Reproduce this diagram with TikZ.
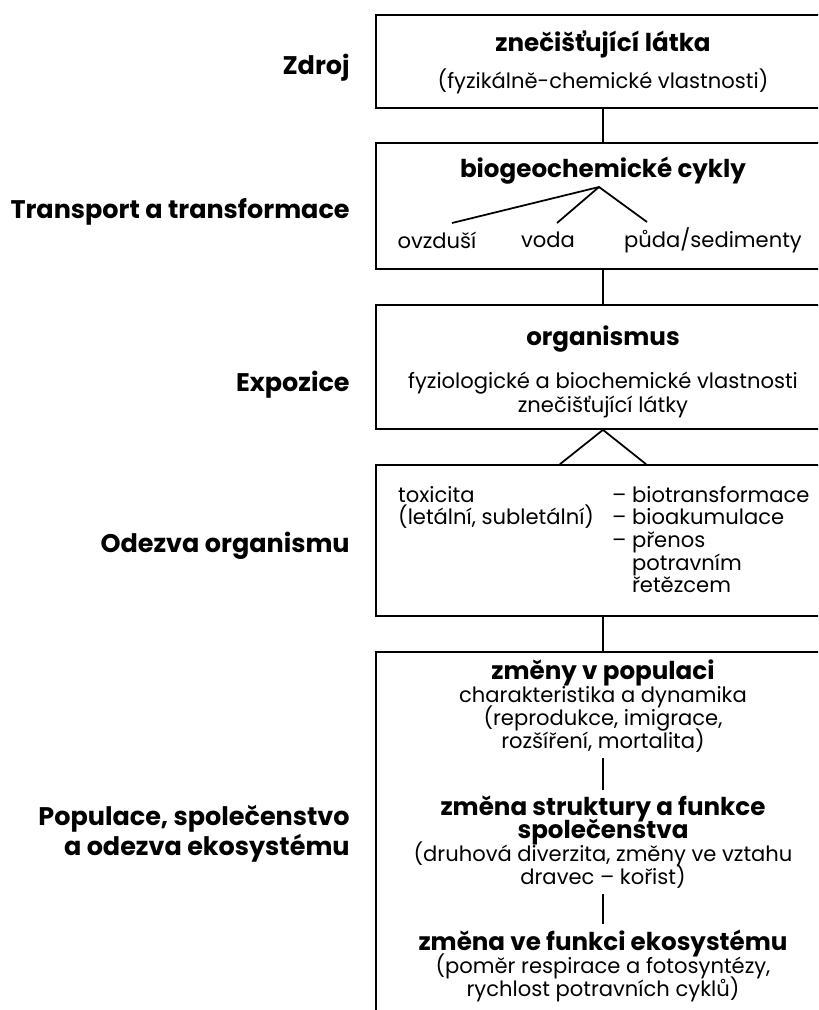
\documentclass[tikz,border=0pt]{standalone}
\usepackage{fontspec}
\setmainfont{Poppins}
\usetikzlibrary{positioning,calc}

\begin{document}
\begin{tikzpicture}[
    x=0.02cm, y=-0.02cm,
    stage/.style={draw, line width=1pt, minimum width=9.08cm, inner sep=0pt},
    head/.style={font=\fontsize{14}{15}\selectfont\bfseries},
    body/.style={font={\fontsize{12}{13}\selectfont\lineskiplimit=-20pt\lineskip=0pt}, align=center},
    side/.style={font=\fontsize{14.5}{12.8}\selectfont\bfseries, anchor=east, align=right, inner sep=0pt},
    link/.style={line width=1pt}
]
\clip (0,0) rectangle (818,1010);

\node[stage, minimum height=1.86cm] (pollutant) at (603,61.5) {};
\node[stage, minimum height=2.52cm] (cycles) at (603,206) {};
\node[stage, minimum height=2.48cm] (organism) at (603,367) {};
\node[stage, minimum height=3.02cm] (response) at (603,540.5) {};
\node[stage, minimum height=7.56cm] (ecosys) at (603,841) {};

\draw[link] (pollutant) -- (cycles);
\draw[link] (cycles) -- (organism);
\draw[link] ($(response.north)+(-43,0)$) -- (organism.south) -- ($(response.north)+(43,0)$);
\draw[link] (response) -- (ecosys);

\node[side] (zdroj) at (350,68) {Zdroj};
\node[side] (transport) at (350,212) {Transport a transformace};
\node[side] (expozice) at (350,385) {Expozice};
\node[side] (odezva) at (350,546) {Odezva organismu};
\node[side] (populace) at (350,834) {Populace, společenstvo\\a odezva ekosystému};

\node[head] (pollutanthead) at (603,44) {znečišťující látka};
\node[body] (pollutantprops) at (603,81) {(fyzikálně-chemické vlastnosti)};

\node[head] (cycleshead) at (603,171) {biogeochemické cykly};
\node[body] (air) at (437,240) {ovzduší};
\node[body] (water) at (548,240) {voda};
\node[body] (soil) at (713,240) {půda/sedimenty};
\coordinate (split) at (599,187);
\coordinate (airend) at (452,223);
\coordinate (waterend) at (557,223);
\coordinate (soilend) at (647,222);
\draw[link] (airend) -- (split) -- (soilend);
\draw[link] (split) -- (waterend);

\node[head] (organismhead) at (603,339) {organismus};
\node[body, font=\fontsize{12}{12.5}\selectfont] (organismprops) at (603,395)
    {fyziologické a biochemické vlastnosti\\znečišťující látky};

\node[body, anchor=north west, align=left, font=\fontsize{12}{12.5}\selectfont]
    (toxicity) at (392,480) {toxicita\\(letální, subletální)};
\node[body, anchor=north west, align=left, font=\fontsize{12}{12.5}\selectfont]
    (fate) at (606,480) {\begin{tabular}{@{}l@{\ }l@{}}
    -- & biotransformace\\ -- & bioakumulace\\ -- & přenos\\ & potravním\\ & řetězcem
    \end{tabular}};

\node[body] (popchange) at (603,706) {{\bfseries\fontsize{14}{13}\selectfont změny v populaci}\\
    charakteristika a dynamika\\(reprodukce, imigrace,\\rozšíření, mortalita)};
\node[body] (community) at (603,842) {{\bfseries\fontsize{14}{13.5}\selectfont změna struktury a funkce}\\
    {\bfseries\fontsize{14}{13.5}\selectfont společenstva}\\
    (druhová diverzita, změny ve vztahu\\dravec -- kořist)};
\node[body] (function) at (603,966) {{\bfseries\fontsize{14}{13}\selectfont změna ve funkci ekosystému}\\
    (poměr respirace a fotosyntézy,\\rychlost potravních cyklů)};

\draw[link] (popchange) -- (community);
\draw[link] (community) -- (function);

\end{tikzpicture}
\end{document}
